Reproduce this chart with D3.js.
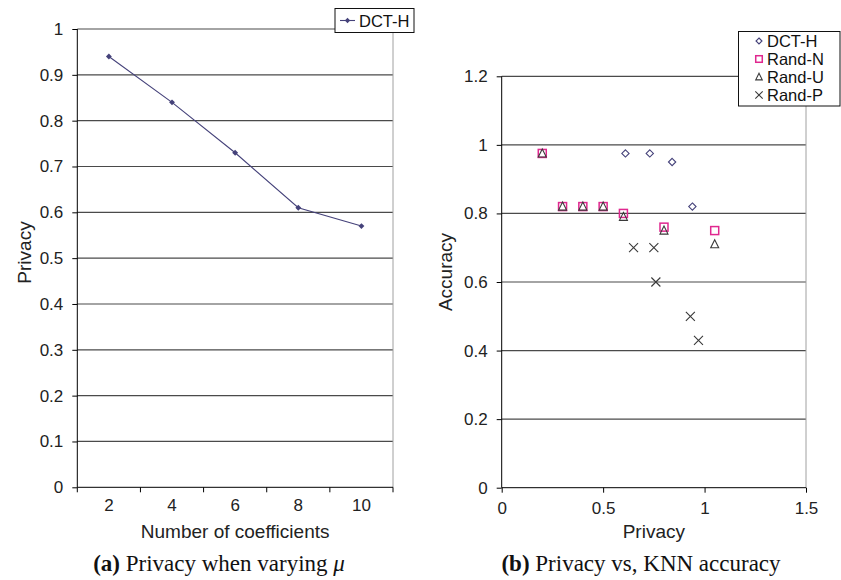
<!DOCTYPE html>
<html>
<head>
<meta charset="utf-8">
<script src="https://cdn.jsdelivr.net/npm/d3@7"></script>
<style>
  body { margin: 0; background: #fff; }
  svg { display: block; font-family: "Liberation Sans", Arial, sans-serif; }
  .axis path, .axis line { stroke: #000; }
  .axis text { font-size: 17px; fill: #222; font-family: "Liberation Sans", Arial, sans-serif; }
  .title { font-size: 19px; fill: #222; }
  .caption { font-family: "Liberation Serif", "Times New Roman", serif; font-size: 23px; fill: #111; }
  .legend text { font-size: 16.5px; fill: #111; }
</style>
</head>
<body>
<div id="viz"></div>
<script>
// (a) privacy vs number of coefficients
const coeffs = [2, 4, 6, 8, 10];
const privacyDCTH = [0.94, 0.84, 0.73, 0.61, 0.57];
const yTicksA = [0, 0.1, 0.2, 0.3, 0.4, 0.5, 0.6, 0.7, 0.8, 0.9, 1];

// (b) privacy vs KNN accuracy
const dcthPriv = [0.61, 0.73, 0.84, 0.94];
const dcthAcc = [0.975, 0.975, 0.95, 0.82];
const randNPriv = [0.2, 0.3, 0.4, 0.5, 0.6, 0.8, 1.05];
const randNAcc = [0.975, 0.82, 0.82, 0.82, 0.80, 0.76, 0.75];
const randUPriv = [0.2, 0.3, 0.4, 0.5, 0.6, 0.8, 1.05];
const randUAcc = [0.975, 0.82, 0.82, 0.82, 0.79, 0.75, 0.71];
const randPPriv = [0.65, 0.75, 0.76, 0.93, 0.97];
const randPAcc = [0.70, 0.70, 0.60, 0.50, 0.43];
const xTicksB = [0, 0.5, 1, 1.5];
const yTicksB = [0, 0.2, 0.4, 0.6, 0.8, 1, 1.2];
const seriesNames = ['DCT-H', 'Rand-N', 'Rand-U', 'Rand-P'];

const width = 841, height = 580;
const navy = '#45427a';
const pink = '#e0288f';
const dark = '#3a3a3a';
const gridColor = '#4a4a4a';
const borderColor = '#a0a0a0';

const svg = d3.select('#viz').append('svg')
  .attr('width', width)
  .attr('height', height);

const fmt = d => d === 0 ? '0' : String(d);

// ---------- chart (a) ----------
const xA = d3.scaleBand().domain(coeffs).range([77.3, 393]);
const yA = d3.scaleLinear().domain([0, 1]).range([487.3, 29]);

const gA = svg.append('g');

// gridlines (the top one doubles as plot border)
gA.append('g')
  .selectAll('line')
  .data(yTicksA.filter(d => d > 0))
  .join('line')
  .attr('x1', xA.range()[0])
  .attr('x2', d => d === 1 ? 335 : xA.range()[1])
  .attr('y1', d => yA(d))
  .attr('y2', d => yA(d))
  .attr('stroke', gridColor)
  .attr('stroke-width', 1.2);

// right border of plot area
gA.append('line')
  .attr('x1', xA.range()[1]).attr('x2', xA.range()[1])
  .attr('y1', 32).attr('y2', yA(0))
  .attr('stroke', borderColor);

gA.append('g')
  .attr('class', 'axis')
  .attr('transform', `translate(${xA.range()[0]},0)`)
  .call(d3.axisLeft(yA).tickValues(yTicksA).tickFormat(fmt).tickSize(5).tickPadding(9))
  .call(g => g.select('.domain').attr('d', `M0,${yA(1)}V${yA(0)}`));

const xAxisA = gA.append('g')
  .attr('class', 'axis')
  .attr('transform', `translate(0,${yA(0)})`)
  .call(d3.axisBottom(xA).tickSize(0).tickPadding(12));
xAxisA.select('.domain').attr('d', `M${xA.range()[0]},0H${xA.range()[1]}`);
// ticks sit at category boundaries
xAxisA.selectAll('.bound')
  .data(coeffs.map(d => xA(d)).concat([xA.range()[1]]))
  .join('line')
  .attr('class', 'bound')
  .attr('x1', d => d).attr('x2', d => d)
  .attr('y1', 0).attr('y2', 5)
  .attr('stroke', '#000');

const lineA = d3.line()
  .x((d, i) => xA(coeffs[i]) + xA.bandwidth() / 2)
  .y(d => yA(d));

gA.append('path')
  .datum(privacyDCTH)
  .attr('d', lineA)
  .attr('fill', 'none')
  .attr('stroke', navy)
  .attr('stroke-width', 1.1);

gA.selectAll('.pt')
  .data(privacyDCTH)
  .join('path')
  .attr('class', 'pt')
  .attr('d', d3.symbol(d3.symbolDiamond2, 22))
  .attr('transform', (d, i) => `translate(${xA(coeffs[i]) + xA.bandwidth() / 2},${yA(d)})`)
  .attr('fill', navy);

gA.append('text')
  .attr('class', 'title')
  .attr('x', (xA.range()[0] + xA.range()[1]) / 2)
  .attr('y', 537.5)
  .attr('text-anchor', 'middle')
  .text('Number of coefficients');

gA.append('text')
  .attr('class', 'title')
  .attr('transform', 'translate(31,252.5) rotate(-90)')
  .attr('text-anchor', 'middle')
  .text('Privacy');

// legend (a)
const legA = gA.append('g').attr('class', 'legend');
legA.append('rect')
  .attr('x', 335).attr('y', 8.5).attr('width', 79).attr('height', 24)
  .attr('fill', '#fff').attr('stroke', '#111');
legA.append('line')
  .attr('x1', 340).attr('x2', 355).attr('y1', 20.5).attr('y2', 20.5)
  .attr('stroke', navy).attr('stroke-width', 1.1);
legA.append('path')
  .attr('d', d3.symbol(d3.symbolDiamond2, 18))
  .attr('transform', 'translate(347.5,20.5)')
  .attr('fill', navy);
legA.append('text')
  .attr('x', 359).attr('y', 26.5)
  .text(seriesNames[0]);

svg.append('text')
  .attr('class', 'caption')
  .attr('x', 219).attr('y', 571)
  .attr('text-anchor', 'middle')
  .call(t => {
    t.append('tspan').attr('font-weight', 'bold').text('(a)');
    t.append('tspan').text(' Privacy when varying ');
    t.append('tspan').attr('font-style', 'italic').text('\u03bc');
  });

// ---------- chart (b) ----------
const xB = d3.scaleLinear().domain([0, 1.5]).range([501.7, 806]);
const yB = d3.scaleLinear().domain([0, 1.2]).range([487.7, 76.3]);

const gB = svg.append('g');

gB.append('g')
  .selectAll('line')
  .data(yTicksB.filter(d => d > 0))
  .join('line')
  .attr('x1', xB(0))
  .attr('x2', d => d === 1.2 ? 738 : xB(1.5))
  .attr('y1', d => yB(d))
  .attr('y2', d => yB(d))
  .attr('stroke', gridColor)
  .attr('stroke-width', 1.2);

gB.append('line')
  .attr('x1', xB(1.5)).attr('x2', xB(1.5))
  .attr('y1', 106).attr('y2', yB(0))
  .attr('stroke', borderColor);

gB.append('g')
  .attr('class', 'axis')
  .attr('transform', `translate(${xB(0)},0)`)
  .call(d3.axisLeft(yB).tickValues(yTicksB).tickFormat(fmt).tickSize(5).tickPadding(9))
  .call(g => g.select('.domain').attr('d', `M0,${yB(1.2)}V${yB(0)}`));

gB.append('g')
  .attr('class', 'axis')
  .attr('transform', `translate(0,${yB(0)})`)
  .call(d3.axisBottom(xB).tickValues(xTicksB).tickFormat(fmt).tickSize(5).tickPadding(9))
  .call(g => g.select('.domain').attr('d', `M${xB(0)},0H${xB(1.5)}`));

const series = [
  { name: seriesNames[0], xs: dcthPriv, ys: dcthAcc },
  { name: seriesNames[1], xs: randNPriv, ys: randNAcc },
  { name: seriesNames[2], xs: randUPriv, ys: randUAcc },
  { name: seriesNames[3], xs: randPPriv, ys: randPAcc }
];

function drawMarker(sel, name, scale) {
  const s = scale || 1;
  if (name === 'DCT-H') {
    sel.append('path')
      .attr('d', d3.symbol(d3.symbolDiamond2, 34 * s * s))
      .attr('fill', 'none').attr('stroke', navy).attr('stroke-width', 1.1);
  } else if (name === 'Rand-N') {
    sel.append('rect')
      .attr('x', -4 * s).attr('y', -4 * s).attr('width', 8 * s).attr('height', 8 * s)
      .attr('fill', 'none').attr('stroke', pink).attr('stroke-width', 1.5);
  } else if (name === 'Rand-U') {
    sel.append('path')
      .attr('d', `M0,${-4.5 * s}L${4 * s},${3.5 * s}L${-4 * s},${3.5 * s}Z`)
      .attr('fill', 'none').attr('stroke', dark).attr('stroke-width', 1.1);
  } else {
    sel.append('path')
      .attr('d', `M${-4.5 * s},${-4.5 * s}L${4.5 * s},${4.5 * s}M${4.5 * s},${-4.5 * s}L${-4.5 * s},${4.5 * s}`)
      .attr('fill', 'none').attr('stroke', dark).attr('stroke-width', 1.1);
  }
}

// Rand-N under Rand-U, draw in series order except DCT-H first
for (const s of series) {
  gB.append('g')
    .selectAll('g')
    .data(s.xs.map((x, i) => [x, s.ys[i]]))
    .join('g')
    .attr('transform', d => `translate(${xB(d[0])},${yB(d[1])})`)
    .each(function () { drawMarker(d3.select(this), s.name); });
}

gB.append('text')
  .attr('class', 'title')
  .attr('x', (xB(0) + xB(1.5)) / 2)
  .attr('y', 537.5)
  .attr('text-anchor', 'middle')
  .text('Privacy');

gB.append('text')
  .attr('class', 'title')
  .attr('transform', 'translate(452,272) rotate(-90)')
  .attr('text-anchor', 'middle')
  .text('Accuracy');

// legend (b)
const legB = gB.append('g').attr('class', 'legend');
legB.append('rect')
  .attr('x', 738.5).attr('y', 31.5).attr('width', 101.5).attr('height', 74.5)
  .attr('fill', '#fff').attr('stroke', '#111');
const rows = legB.selectAll('.row')
  .data(seriesNames)
  .join('g')
  .attr('class', 'row')
  .attr('transform', (d, i) => `translate(759,${41 + i * 18})`);
rows.each(function (d) { drawMarker(d3.select(this), d, 0.82); });
rows.append('text')
  .attr('x', 8).attr('y', 6)
  .text(d => d);

svg.append('text')
  .attr('class', 'caption')
  .attr('x', 641).attr('y', 571)
  .attr('text-anchor', 'middle')
  .call(t => {
    t.append('tspan').attr('font-weight', 'bold').text('(b)');
    t.append('tspan').text(' Privacy vs, KNN accuracy');
  });
</script>
</body>
</html>
